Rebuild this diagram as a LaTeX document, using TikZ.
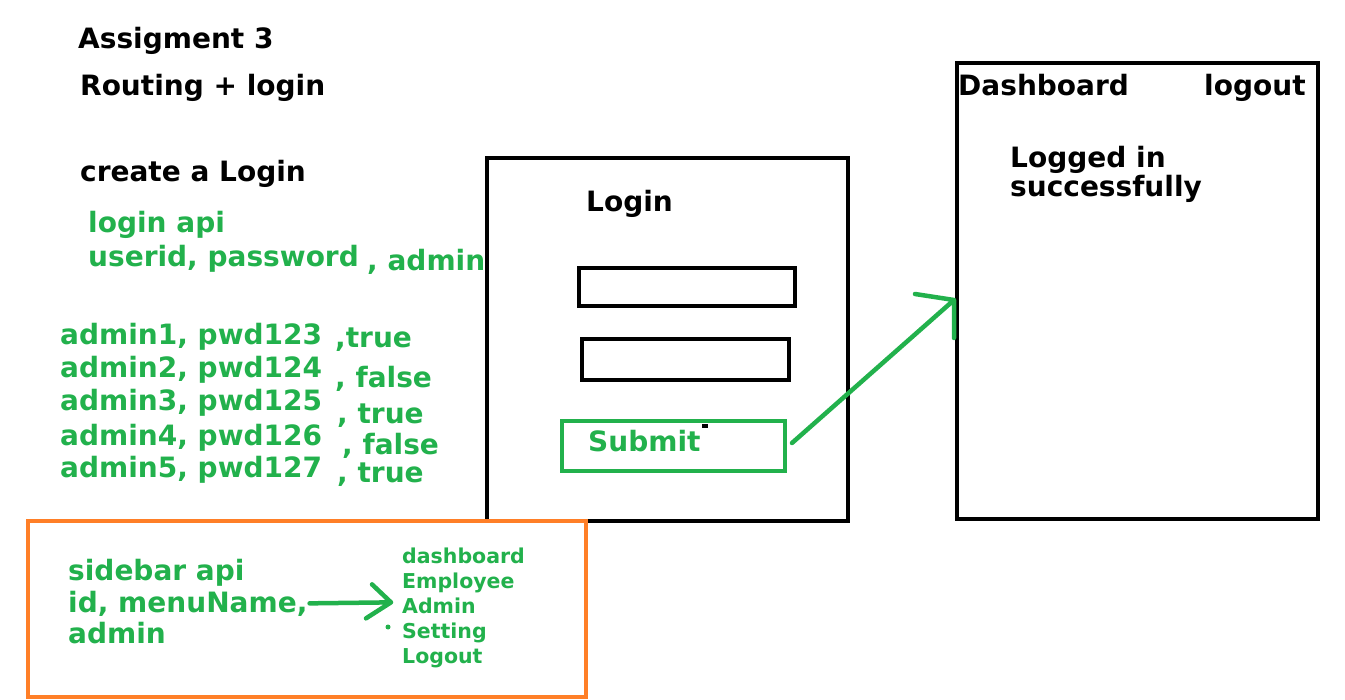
\documentclass[tikz,border=0pt]{standalone}
\usepackage{fontspec}
\setmainfont{DejaVu Sans}
\definecolor{sketchgreen}{RGB}{34,177,76}
\definecolor{sketchorange}{RGB}{255,127,39}

\begin{document}
\begin{tikzpicture}[x=1pt, y=-1pt,
    frame/.style={draw, line width=4.5pt, inner sep=0pt, outer sep=0pt},
    bigtxt/.style={anchor=base west, inner sep=0pt, font=\fontsize{28}{34}\selectfont\bfseries},
    greentxt/.style={bigtxt, text=sketchgreen},
    menutxt/.style={greentxt, font=\fontsize{20.5}{25}\selectfont\bfseries},
    greenline/.style={draw=sketchgreen, line width=4.5pt, line cap=round, line join=round}]
    \useasboundingbox[fill=white] (0,0) rectangle (1345,700);

    % Headers
    \node[bigtxt] (title) at (78,49) {Assigment 3};
    \node[bigtxt] (subtitle) at (80,96) {Routing + login};
    \node[bigtxt] (task) at (80,182) {create a Login};

    % Login api
    \node[greentxt] (api) at (88,233) {login api};
    \node[greentxt] (fields) at (88,267) {userid, password};
    \node[greentxt] (fieldadmin) at (367,271) {, admin};

    \foreach \u/\p/\y in {1/123/345, 2/124/378, 3/125/411, 4/126/446, 5/127/478}
        \node[greentxt] (user\u) at (60,\y) {admin\u, pwd\p};
    \node[greentxt] (flag1) at (335,348) {,true};
    \node[greentxt] (flag2) at (335,388) {, false};
    \node[greentxt] (flag3) at (337,424) {, true};
    \node[greentxt] (flag4) at (342,455) {, false};
    \node[greentxt] (flag5) at (337,483) {, true};

    % Login form
    \node[frame, minimum width=361pt, minimum height=363pt] (loginbox) at (667.5,339.5) {};
    \node[bigtxt] (logintitle) at (586,212) {Login};
    \node[frame, minimum width=216pt, minimum height=38pt] (field1) at (687,287) {};
    \node[frame, minimum width=207pt, minimum height=41pt] (field2) at (685.5,359.5) {};
    \node[frame, draw=sketchgreen, line width=3.5pt, minimum width=223pt, minimum height=50pt] (submit) at (673.5,446) {};
    \node[greentxt] (submitlbl) at (588,452) {Submit};
    \fill (702,424) rectangle (708,428);

    % Dashboard
    \node[frame, minimum width=361pt, minimum height=456pt] (dash) at (1137.5,291) {};
    \node[bigtxt] (dashtitle) at (958,96) {Dashboard};
    \node[bigtxt] (logout) at (1204,96) {logout};
    \node[bigtxt] (msg1) at (1010,168) {Logged in};
    \node[bigtxt] (msg2) at (1010,197) {successfully};

    \coordinate (dashtip) at ([xshift=-3pt,yshift=-9pt]dash.west);
    \draw[greenline] ([xshift=7pt,yshift=3pt]submit.east) -- (dashtip)
        ++(-39,-6) -- (dashtip) -- ++(0,38);

    % Sidebar api
    \node[frame, draw=sketchorange, minimum width=558pt, minimum height=176pt] (sidebar) at (307,609) {};
    \node[greentxt] (side1) at (68,580) {sidebar api};
    \node[greentxt] (side2) at (68,612) {id, menuName,};
    \node[greentxt] (side3) at (68,643) {admin};

    \foreach \item [count=\i] in {dashboard, Employee, Admin, Setting, Logout}
        \node[menutxt] (menu\i) at (402,538+25*\i) {\item};

    \coordinate (sidetip) at ([xshift=-11pt,yshift=3pt]menu3.west);
    \draw[greenline] ([xshift=2pt]side2.east) -- (sidetip)
        ++(-19,-18) -- (sidetip) -- ++(-25,16);
    \fill[sketchgreen] (388,627) circle (2.5);
\end{tikzpicture}
\end{document}
